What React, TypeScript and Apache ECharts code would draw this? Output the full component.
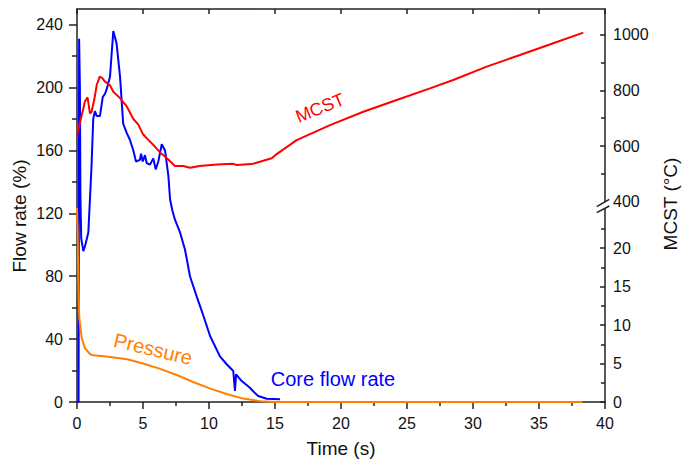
import React, { useEffect, useRef } from "react";
import * as echarts from "echarts";

// Core flow rate (%) vs time (s)
const flowTime = [0, 0.12, 0.16, 0.22, 0.26, 0.32, 0.4, 0.48, 0.6, 0.75, 0.86, 0.98, 1.1, 1.23, 1.36, 1.49, 1.74, 1.95, 2.12, 2.25, 2.5, 2.75, 3.0, 3.26, 3.5, 3.77, 4.0, 4.27, 4.47, 4.77, 4.85, 4.98, 5.15, 5.28, 5.53, 5.78, 5.96, 6.16, 6.42, 6.67, 6.92, 7.05, 7.22, 7.42, 7.8, 8.18, 8.56, 9.07, 9.57, 10.08, 10.83, 11.34, 11.84, 11.97, 12.05, 12.48, 13.1, 13.5, 13.73, 14.37, 15.38];
const flowRate = [0, 0, 231, 200, 130, 104, 100, 96, 99, 104, 108, 129, 150, 180, 185, 182, 182, 194, 196, 199, 207, 236, 228, 207, 177, 171, 167, 160, 153, 154, 158, 153, 157, 152, 151, 155, 148, 153, 164, 160, 144, 129, 122, 116, 108, 97, 80, 67, 55, 42, 29, 24, 19.7, 7, 17.6, 13.3, 9.1, 5.5, 3.8, 2.1, 1.7];

// Maximum cladding surface temperature (°C) vs time (s)
const mcstTime = [0, 0.25, 0.48, 0.6, 0.8, 0.98, 1.1, 1.3, 1.5, 1.72, 1.9, 2.1, 2.5, 2.75, 3.26, 3.77, 4.27, 4.65, 5.0, 5.4, 5.9, 6.3, 6.67, 7.05, 7.42, 8.05, 8.56, 9.3, 10.6, 11.84, 12.1, 13.23, 14.11, 14.75, 15.13, 16.64, 19.17, 21.69, 24.22, 26.74, 28.5, 31.04, 33.56, 36.08, 38.36];
const mcstValue = [639, 690, 735, 760, 775, 717, 722, 765, 820, 849, 845, 832, 818, 795, 772, 742, 697, 677, 642, 622, 598, 576, 562, 545, 528, 528, 522, 528, 534, 536, 532, 535, 547, 556, 571, 621, 675, 723, 765, 807, 837, 885, 927, 969, 1007];

// Pressure vs time (s), read on the lower right scale
const pressTime = [0, 0.05, 0.1, 0.17, 0.36, 0.6, 1.0, 1.25, 2.0, 2.5, 3.8, 5.0, 6.3, 7.6, 8.8, 10.1, 11.4, 12.6, 13.9, 15.0, 38.3];
const pressValue = [25.2, 22, 15.4, 11, 8.3, 7.0, 6.2, 6.06, 5.95, 5.85, 5.55, 5.0, 4.3, 3.47, 2.6, 1.74, 1.0, 0.44, 0.1, 0, 0];

// Tick values
const flowTicks = [0, 40, 80, 120, 160, 200, 240];
const flowMinorTicks = [20, 60, 100, 140, 180, 220];
const mcstUpperTicks = [400, 600, 800, 1000];
const mcstUpperMinorTicks = [500, 700, 900];
const lowerTicks = [0, 5, 10, 15, 20];
const lowerMinorTicks = [2.5, 7.5, 12.5, 17.5, 22.5];

const FONT = "'Liberation Sans', Arial, sans-serif";
const AXIS_COLOR = "#222";
const TEXT_COLOR = "#111";

const zip = (xs: number[], ys: number[]) => xs.map((x, i) => [x, ys[i]]);
const plain = (v: number) => String(v);

export default function App() {
  const ref = useRef<HTMLDivElement>(null);

  useEffect(() => {
    if (!ref.current) return;
    const chart = echarts.init(ref.current, undefined, { renderer: "svg" });

    const axisLine = { show: true, onZero: false, lineStyle: { color: AXIS_COLOR, width: 1.5 } };
    const noLine = { show: false, onZero: false };
    const tickStyle = { color: AXIS_COLOR, width: 1.5 };
    const label = { color: TEXT_COLOR, fontSize: 16, fontFamily: FONT, formatter: plain };

    // an extra axis that only draws short (minor) ticks at the given values
    const minorAxis = (gridIndex: number, position: string, min: number, max: number, values: number[], inside: boolean, length: number) => ({
      type: "value", gridIndex, position, min, max,
      axisLine: noLine, splitLine: { show: false }, axisLabel: { show: false },
      axisTick: { show: true, inside, length, customValues: values, lineStyle: tickStyle },
    });

    chart.setOption({
      animation: false,
      backgroundColor: "#fff",
      grid: [
        { left: 77, right: 87, top: 9, bottom: 66 },
        { left: 77, right: 87, top: 9, height: 192.7 },
        { left: 77, right: 87, top: 201.8, bottom: 66 },
      ],
      xAxis: [
        {
          type: "value", gridIndex: 0, position: "bottom", min: 0, max: 40, interval: 5,
          axisLine, splitLine: { show: false },
          axisTick: { show: true, length: 7, lineStyle: tickStyle },
          minorTick: { show: true, splitNumber: 2, length: 4, lineStyle: tickStyle },
          axisLabel: { ...label, margin: 13 },
          name: "Time (s)", nameLocation: "middle", nameGap: 37,
          nameTextStyle: { color: TEXT_COLOR, fontSize: 19, fontFamily: FONT },
        },
        {
          type: "value", gridIndex: 0, position: "top", min: 0, max: 40, interval: 5,
          axisLine, splitLine: { show: false },
          axisTick: { show: true, inside: true, length: 5, lineStyle: tickStyle },
          axisLabel: { show: false },
        },
        { type: "value", gridIndex: 1, min: 0, max: 40, show: false },
        { type: "value", gridIndex: 2, min: 0, max: 40, show: false },
      ],
      yAxis: [
        {
          type: "value", gridIndex: 0, position: "left", min: 0, max: 250, interval: 40,
          axisLine, splitLine: { show: false },
          axisTick: { show: true, length: 8, customValues: flowTicks, lineStyle: tickStyle },
          axisLabel: { ...label, margin: 14, customValues: flowTicks },
        },
        {
          type: "value", gridIndex: 1, position: "right", min: 400, max: 1092, interval: 200,
          axisLine, splitLine: { show: false },
          axisTick: { show: true, inside: true, length: 5, customValues: [600, 800, 1000], lineStyle: tickStyle },
          axisLabel: { ...label, margin: 8, customValues: mcstUpperTicks },
        },
        {
          type: "value", gridIndex: 2, position: "right", min: 0, max: 26, interval: 5,
          axisLine, splitLine: { show: false },
          axisTick: { show: true, inside: true, length: 5, customValues: lowerTicks, lineStyle: tickStyle },
          axisLabel: { ...label, margin: 8, customValues: lowerTicks },
        },
        minorAxis(2, "right", 0, 26, lowerMinorTicks, true, 4),
        minorAxis(1, "right", 400, 1092, mcstUpperMinorTicks, true, 4),
        minorAxis(0, "left", 0, 250, flowMinorTicks, false, 5),
      ],
      series: [
        {
          name: "Core flow rate", type: "line", xAxisIndex: 0, yAxisIndex: 0,
          data: zip(flowTime, flowRate), showSymbol: false, symbol: "none",
          lineStyle: { color: "#0000ff", width: 2 }, z: 2,
        },
        {
          name: "MCST", type: "line", xAxisIndex: 2, yAxisIndex: 1,
          data: zip(mcstTime, mcstValue), showSymbol: false, symbol: "none",
          lineStyle: { color: "#ff0000", width: 2 }, z: 3,
        },
        {
          name: "Pressure", type: "line", xAxisIndex: 3, yAxisIndex: 2,
          data: zip(pressTime, pressValue), showSymbol: false, symbol: "none",
          lineStyle: { color: "#ff8000", width: 2 }, z: 4,
        },
      ],
      graphic: [
        // axis break on the right scale
        {
          type: "polygon", z: 100,
          shape: { points: [[596.7, 206.7], [609.3, 199.3], [609.3, 206], [596.7, 212.7]] },
          style: { fill: "#fff" },
        },
        {
          type: "line", z: 101,
          shape: { x1: 596.7, y1: 206.7, x2: 609.3, y2: 199.3 },
          style: { stroke: AXIS_COLOR, lineWidth: 1.5 },
        },
        {
          type: "line", z: 101,
          shape: { x1: 596.7, y1: 212.7, x2: 609.3, y2: 206 },
          style: { stroke: AXIS_COLOR, lineWidth: 1.5 },
        },
        // axis titles
        {
          type: "text", x: 19, y: 216, rotation: Math.PI / 2, z: 100,
          style: { text: "Flow rate (%)", fill: TEXT_COLOR, fontSize: 19, fontFamily: FONT, align: "center", verticalAlign: "middle" },
        },
        {
          type: "text", x: 670, y: 204, rotation: Math.PI / 2, z: 100,
          style: { text: "MCST (\u00B0C)", fill: TEXT_COLOR, fontSize: 19, fontFamily: FONT, align: "center", verticalAlign: "middle" },
        },
        // series labels
        {
          type: "text", x: 320, y: 108, rotation: (22 * Math.PI) / 180, z: 100,
          style: { text: "MCST", fill: "#ff0000", fontSize: 18, fontFamily: FONT, align: "center", verticalAlign: "middle" },
        },
        {
          type: "text", x: 153, y: 349, rotation: (-13.5 * Math.PI) / 180, z: 100,
          style: { text: "Pressure", fill: "#ff8000", fontSize: 20, fontFamily: FONT, align: "center", verticalAlign: "middle" },
        },
        {
          type: "text", x: 333, y: 379, z: 100,
          style: { text: "Core flow rate", fill: "#0000ff", fontSize: 20, fontFamily: FONT, align: "center", verticalAlign: "middle" },
        },
      ],
    });

    return () => chart.dispose();
  }, []);

  return (
    <div
      ref={ref}
      style={{ position: "fixed", left: 0, top: 0, width: 692, height: 468, background: "#fff" }}
    />
  );
}
